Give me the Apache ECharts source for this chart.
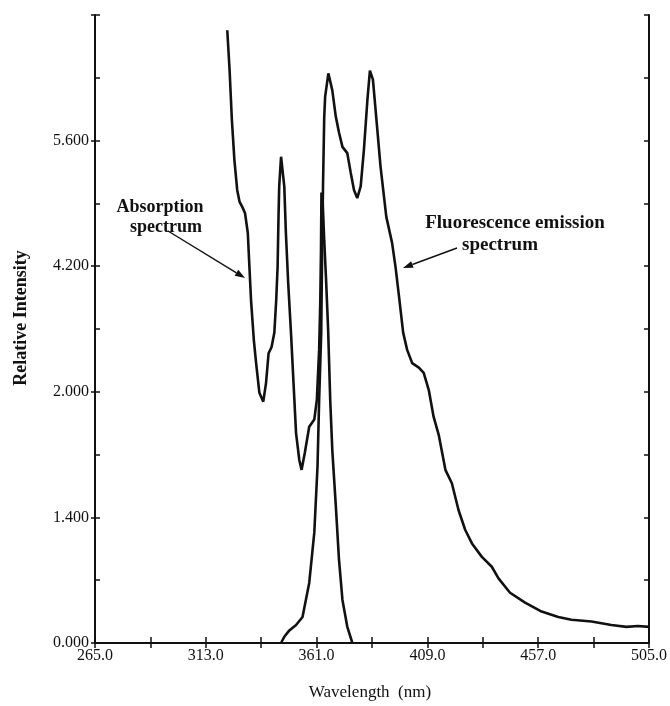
<!DOCTYPE html>
<html>
<head>
<meta charset="utf-8">
<script src="https://cdn.jsdelivr.net/npm/echarts@6/dist/echarts.min.js"></script>
<style>
  html, body { margin: 0; padding: 0; background: #fff; }
  #chart { width: 670px; height: 706px; }
</style>
</head>
<body>
<div id="chart"></div>
<script>
// absorption spectrum
const absWave = [322.3, 323.3, 324.3, 325.4, 326.6, 327.6, 329.0, 330.0, 331.2, 331.9,
  332.6, 333.8, 334.8, 336.2, 337.9, 339.1, 340.2, 341.5, 342.7, 343.5,
  344.1, 344.5, 344.8, 345.6, 347.0, 347.7, 348.7, 349.9, 351.0, 352.1,
  353.5, 354.5, 355.9, 357.8, 360.0, 361.1, 362.1, 362.6, 362.9, 363.1,
  363.6, 364.3, 365.1, 366.0, 366.9, 367.8, 369.3, 370.7, 372.2, 374.3, 376.5];
const absValue = [6.83, 6.39, 5.83, 5.38, 5.05, 4.92, 4.85, 4.79, 4.57, 4.19,
  3.82, 3.38, 3.12, 2.79, 2.69, 2.90, 3.23, 3.30, 3.46, 3.82,
  4.19, 4.75, 5.09, 5.42, 5.09, 4.57, 4.01, 3.46, 2.90, 2.34,
  2.04, 1.93, 2.12, 2.41, 2.49, 2.71, 3.27, 3.82, 4.38, 5.02,
  4.94, 4.49, 4.05, 3.49, 2.71, 2.15, 1.54, 0.93, 0.48, 0.18, 0.00];

// fluorescence emission spectrum
const emWave = [345.6, 347.0, 349.2, 352.1, 354.9, 357.8, 360.0, 361.4, 362.1, 363.0,
  363.4, 363.8, 364.3, 364.7, 366.1, 367.8, 369.3, 370.7, 372.2, 374.3,
  375.8, 377.2, 378.6, 380.1, 381.5, 383.0, 384.1, 385.4, 386.8, 388.7,
  391.2, 393.7, 395.2, 396.9, 398.5, 400.2, 402.4, 405.3, 407.4, 409.6,
  411.7, 413.9, 416.8, 419.6, 422.5, 425.4, 428.3, 432.6, 436.9, 439.8,
  444.8, 451.3, 458.5, 465.7, 471.4, 480.1, 488.7, 495.2, 500.2, 505.0];
const emValue = [0.00, 0.07, 0.14, 0.20, 0.29, 0.67, 1.23, 1.97, 2.71, 3.46,
  4.38, 5.13, 5.86, 6.09, 6.35, 6.16, 5.87, 5.69, 5.53, 5.46,
  5.24, 5.05, 4.96, 5.09, 5.50, 6.05, 6.38, 6.28, 5.87, 5.31,
  4.75, 4.46, 4.19, 3.82, 3.46, 3.27, 3.12, 3.07, 3.01, 2.82,
  2.52, 2.32, 1.93, 1.78, 1.48, 1.26, 1.11, 0.96, 0.85, 0.72,
  0.56, 0.45, 0.35, 0.29, 0.26, 0.24, 0.20, 0.18, 0.19, 0.18];

// tick labels as printed (the 2.8 tick reads "2.000" in the original)
const yTickLabels = ["0.000", "1.400", "2.000", "4.200", "5.600"];
const xMin = 265, xMax = 505, xStep = 24;

const serif = '"Liberation Serif", "DejaVu Serif", serif';
const ink = "#111";

function pairs(xs, ys) {
  return xs.map((x, i) => [x, ys[i]]);
}

function arrow(x1, y1, x2, y2) {
  const a = Math.atan2(y2 - y1, x2 - x1);
  const len = 10, w = 3.5;
  const bx = x2 - len * Math.cos(a), by = y2 - len * Math.sin(a);
  const head = [
    [x2, y2],
    [bx + w * Math.sin(a), by - w * Math.cos(a)],
    [bx - w * Math.sin(a), by + w * Math.cos(a)],
  ];
  return [
    { type: "line", shape: { x1: x1, y1: y1, x2: bx, y2: by }, style: { stroke: ink, lineWidth: 1.4 } },
    { type: "polygon", shape: { points: head }, style: { fill: ink } },
  ];
}

function label(text, x, y, font, align) {
  return {
    type: "text", x: x, y: y,
    style: { text: text, font: font, fill: ink, align: align || "center", verticalAlign: "middle" },
  };
}

const chart = echarts.init(document.getElementById("chart"));

const lineStyle = { color: ink, width: 2.6 };
const baseX = { type: "value", min: xMin, max: xMax, interval: xStep, splitLine: { show: false } };
const baseY = { type: "value", min: 0, max: 7, interval: 0.7, splitLine: { show: false } };

chart.setOption({
  backgroundColor: "#fff",
  animation: false,
  grid: { left: 95, right: 19, top: 15, bottom: 63 },
  xAxis: [
    {
      ...baseX,
      position: "bottom",
      axisLine: { lineStyle: { color: ink, width: 2 } },
      axisTick: { inside: true, length: 6, lineStyle: { color: ink, width: 1.5 } },
      axisLabel: {
        color: ink, fontFamily: serif, fontSize: 16, margin: 5,
        formatter: (v) => (Math.round((v - xMin) / xStep) % 2 === 0 ? v.toFixed(1) : ""),
      },
    },
    {
      ...baseX,
      position: "top",
      axisLine: { lineStyle: { color: ink, width: 2 } },
      axisTick: { inside: true, length: 5, lineStyle: { color: ink, width: 1.5 } },
      axisLabel: { show: false },
    },
  ],
  yAxis: [
    {
      ...baseY,
      position: "left",
      axisLine: { lineStyle: { color: ink, width: 2 } },
      axisTick: { inside: true, length: 5, lineStyle: { color: ink, width: 1.5 } },
      axisLabel: {
        color: ink, fontFamily: serif, fontSize: 16, margin: 6,
        formatter: (v) => {
          const i = Math.round(v / 1.4);
          return Math.abs(v - i * 1.4) < 1e-6 && i < yTickLabels.length ? yTickLabels[i] : "";
        },
      },
    },
    {
      ...baseY,
      position: "right",
      axisLine: { lineStyle: { color: ink, width: 2 } },
      axisTick: { inside: true, length: 5, lineStyle: { color: ink, width: 1.5 } },
      axisLabel: { show: false },
    },
    {
      ...baseY,
      interval: 1.4,
      position: "left",
      axisLine: { show: false },
      axisTick: { inside: false, length: 4, lineStyle: { color: ink, width: 1.5 } },
      axisLabel: { show: false },
    },
  ],
  series: [
    {
      name: "Absorption spectrum", type: "line", showSymbol: false,
      data: pairs(absWave, absValue), lineStyle: lineStyle, z: 3,
    },
    {
      name: "Fluorescence emission spectrum", type: "line", showSymbol: false,
      data: pairs(emWave, emValue), lineStyle: lineStyle, z: 3,
    },
  ],
  graphic: [
    {
      type: "text", x: 21, y: 318, rotation: Math.PI / 2,
      style: { text: "Relative Intensity", font: "bold 18px " + serif, fill: ink, align: "center", verticalAlign: "middle" },
    },
    label("Wavelength  (nm)", 370, 693, "17px " + serif),
    label("Absorption", 160, 207, "bold 18px " + serif),
    label("spectrum", 166, 227, "bold 18px " + serif),
    label("Fluorescence emission", 515, 223, "bold 19px " + serif),
    label("spectrum", 500, 245, "bold 19px " + serif),
    ...arrow(168, 231, 245, 278),
    ...arrow(457, 248, 403, 268),
  ],
});
</script>
</body>
</html>
